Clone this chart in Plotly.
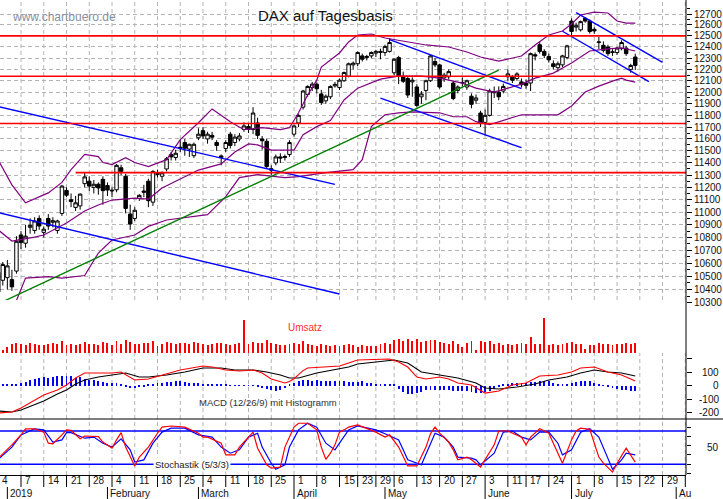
import math
import pandas as pd
import plotly.graph_objects as go

# ---------------- trading calendar ----------------
holidays = ["2018-12-31", "2019-01-01", "2019-04-19", "2019-04-22", "2019-05-01", "2019-06-10"]
days = [d for d in pd.bdate_range("2018-12-27", "2019-08-09") if d.strftime("%Y-%m-%d") not in holidays]
day_index = {d.strftime("%Y-%m-%d"): k for k, d in enumerate(days)}

# ---------------- price data (DAX daily) ----------------
opens = [10530, 10470, 10490, 10475, 10540, 10820, 10755, 10880, 10855, 10950,
         10840, 10950, 10920, 10855, 10990, 11175, 11100, 11038, 11050, 11230,
         11250, 11200, 11225, 11265, 11215, 11170, 11180, 11360, 11290, 10985,
         10950, 11110, 11170, 11250, 11080, 11305, 11290, 11350, 11470, 11445,
         11520, 11570, 11515, 11460, 11610, 11670, 11600, 11630, 11570, 11445,
         11520, 11640, 11570, 11600, 11680, 11705, 11680, 11735, 11600, 11580,
         11340, 11400, 11450, 11445, 11470, 11640, 11735, 11870, 11980, 12040,
         12070, 11985, 11925, 11960, 12055, 12040, 12100, 12140, 12240, 12250,
         12320, 12305, 12320, 12345, 12360, 12350, 12360, 12170, 12305, 12135,
         12120, 12090, 12045, 11960, 12015, 12100, 12270, 12240, 12125, 12135,
         12080, 12015, 12080, 12045, 11965, 11930, 11820, 11740, 11800, 11995,
         12000, 12010, 12135, 12135, 12120, 12090, 12080, 12080, 12330, 12420,
         12360, 12315, 12250, 12215, 12240, 12305, 12635, 12580, 12555, 12660,
         12635, 12560, 12440, 12415, 12400, 12350, 12350, 12385, 12390, 12200,
         12310]
highs = [10560, 10610, 10625, 10550, 10810, 10850, 10900, 10950, 10960, 10975,
         10885, 10985, 10960, 10940, 11220, 11200, 11150, 11130, 11150, 11320,
         11290, 11260, 11240, 11290, 11240, 11200, 11390, 11385, 11310, 11060,
         11040, 11145, 11220, 11270, 11340, 11345, 11330, 11450, 11490, 11510,
         11590, 11600, 11560, 11570, 11690, 11700, 11660, 11660, 11590, 11470,
         11590, 11660, 11640, 11650, 11740, 11730, 11870, 11780, 11625, 11600,
         11380, 11470, 11480, 11470, 11590, 11720, 11810, 12020, 12060, 12090,
         12085, 12020, 11980, 12060, 12090, 12120, 12180, 12260, 12270, 12360,
         12340, 12330, 12360, 12375, 12385, 12420, 12480, 12300, 12320, 12180,
         12140, 12130, 12070, 12010, 12110, 12330, 12300, 12250, 12170, 12200,
         12100, 12060, 12130, 12110, 11990, 11980, 11840, 11850, 12030, 12050,
         12050, 12075, 12200, 12150, 12175, 12120, 12110, 12350, 12350, 12450,
         12380, 12340, 12280, 12270, 12330, 12420, 12660, 12620, 12640, 12670,
         12650, 12580, 12490, 12450, 12420, 12380, 12400, 12460, 12410, 12250,
         12340]
lows = [10280, 10430, 10400, 10390, 10520, 10710, 10720, 10830, 10830, 10860,
        10800, 10860, 10880, 10830, 10970, 11120, 11040, 11010, 11020, 11200,
        11170, 11150, 11140, 11060, 11130, 11120, 11160, 11300, 10990, 10860,
        10930, 11090, 11120, 11040, 11050, 11280, 11250, 11330, 11420, 11420,
        11490, 11460, 11450, 11440, 11590, 11600, 11560, 11590, 11500, 11380,
        11490, 11520, 11540, 11580, 11660, 11650, 11640, 11600, 11510, 11350,
        11300, 11380, 11400, 11420, 11450, 11620, 11700, 11850, 11960, 12010,
        11990, 11890, 11900, 11940, 12040, 12020, 12090, 12130, 12200, 12230,
        12270, 12280, 12300, 12310, 12290, 12320, 12350, 12150, 12070, 12080,
        11950, 11960, 11870, 11900, 11930, 12090, 12220, 12030, 12090, 12110,
        11930, 11990, 12050, 12020, 11860, 11900, 11700, 11630, 11790, 11950,
        11930, 11990, 12100, 12080, 12100, 12040, 12030, 12010, 12280, 12340,
        12300, 12260, 12200, 12180, 12220, 12290, 12500, 12540, 12540, 12620,
        12520, 12520, 12380, 12350, 12320, 12320, 12330, 12370, 12320, 12170,
        12195]
closes = [10382, 10590, 10580, 10420, 10770, 10760, 10810, 10895, 10930, 10890,
          10865, 10890, 10932, 10930, 11210, 11136, 11085, 11075, 11145, 11285,
          11210, 11225, 11195, 11173, 11178, 11176, 11380, 11330, 11030, 10906,
          11015, 11135, 11160, 11092, 11330, 11320, 11318, 11435, 11450, 11480,
          11530, 11522, 11555, 11555, 11640, 11625, 11640, 11615, 11545, 11458,
          11570, 11545, 11615, 11625, 11710, 11680, 11820, 11630, 11585, 11370,
          11352, 11450, 11440, 11452, 11570, 11710, 11800, 12010, 12050, 12070,
          12030, 11910, 11965, 12050, 12068, 12105, 12172, 12250, 12255, 12350,
          12290, 12315, 12350, 12360, 12352, 12405, 12440, 12290, 12140, 12095,
          11975, 12105, 11885, 11985, 12100, 12320, 12240, 12045, 12150, 12180,
          11945, 12045, 12085, 12100, 11895, 11950, 11730, 11800, 12010, 12002,
          11960, 12050, 12160, 12105, 12160, 12065, 12060, 12340, 12320, 12360,
          12325, 12285, 12225, 12250, 12320, 12410, 12540, 12592, 12630, 12635,
          12540, 12545, 12445, 12370, 12340, 12356, 12390, 12440, 12340, 12235,
          12235]

# turnover ("Umsatz"), arbitrary units
volume = [5, 3, 6, 9, 10, 9, 8, 10, 9, 8,
          8, 9, 10, 9, 12, 8, 9, 8, 9, 11,
          9, 9, 8, 11, 10, 8, 12, 9, 13, 11,
          9, 9, 10, 10, 12, 7, 9, 11, 10, 9,
          10, 10, 9, 11, 10, 9, 8, 9, 10, 10,
          9, 8, 9, 10, 33, 9, 11, 10, 10, 13,
          10, 9, 8, 8, 9, 10, 9, 12, 9, 8,
          7, 9, 8, 7, 8, 7, 8, 9, 8, 6,
          8, 7, 7, 7, 9, 10, 9, 13, 14, 12,
          14, 12, 14, 11, 12, 13, 13, 11, 10, 9,
          12, 9, 6, 10, 12, 3, 12, 11, 12, 9,
          10, 8, 9, 8, 9, 10, 9, 16, 9, 9,
          35, 8, 9, 8, 9, 10, 11, 9, 9, 4,
          8, 8, 10, 9, 9, 8, 9, 9, 10, 9,
          10]

# MACD histogram (one value per day)
macd_hist = [10, 12, 8, 8, 8, 15, 25, 40, 49, 57,
             62, 57, 62, 69, 69, 74, 69, 57, 64, 49,
             44, 40, 32, 25, 20, 20, 20, 5, -10, -17,
             -17, -10, -10, 7, 10, 15, 20, 25, 25, 32,
             32, 25, 20, 20, 15, 12, 7, 7, 7, 5,
             5, 3, 3, 3, 3, 3, -2, -5, -17, -25,
             -35, -42, -30, -17, 10, 20, 32, 44, 44, 32,
             40, 32, 32, 32, 32, 32, 30, 25, 25, 25,
             32, 17, 17, 12, 12, 12, 7, 7, -25, -49,
             -62, -62, -57, -49, -32, -32, -32, -32, -32, -32,
             -37, -37, -40, -42, -49, -53, -57, -50, -42, -25,
             -12, 5, 7, 17, 17, 17, 20, 25, 25, 32,
             37, 32, 17, 12, 12, 12, 17, 25, 32, 37,
             32, 17, 5, -3, -7, -17, -25, -32, -32, -37,
             -42]

# MACD line (red) and signal line (black): (trading-day index, value)
macd_days = [0, 3, 5, 8, 10, 13, 15, 17, 19, 22, 25, 27, 29, 30, 33, 36, 40, 45, 47, 50,
             53, 56, 58, 60, 63, 64, 65, 66, 67, 68, 72, 75, 77, 79, 86, 88, 90, 92, 94, 97,
             99, 101, 104, 106, 107, 110, 113, 116, 119, 123, 126, 128, 131, 134, 137, 140]
macd_vals = [-204, -196, -167, -107, -70, -33, 4, 56, 93, 93, 93, 100, 63, 41, 48, 78, 115, 144, 137, 115,
             107, 115, 93, 48, 19, 30, 50, 80, 110, 130, 137, 144, 167, 189, 196, 174, 137, 63, 48, 63,
             48, 19, 4, -33, -56, -41, 4, 19, 70, 78, 100, 130, 137, 100, 78, 33]
signal_days = [0, 3, 5, 8, 10, 13, 15, 17, 19, 22, 25, 28, 31, 33, 37, 41, 45, 49, 52, 56,
               59, 62, 64, 66, 70, 74, 77, 79, 84, 87, 90, 93, 97, 101, 105, 107, 110, 114, 118, 121,
               125, 128, 131, 134, 137, 140]
signal_vals = [-189, -196, -181, -144, -115, -63, -33, 11, 41, 63, 78, 93, 63, 63, 78, 100, 130, 130, 115, 115,
               100, 78, 56, 56, 93, 115, 137, 159, 181, 189, 167, 100, 78, 56, 19, -19, -26, -11, 11, 41,
               63, 93, 115, 100, 93, 70]

# Stochastics %K (red) and %D (blue)
stk_days = [0, 3, 5, 6, 8, 10, 11, 12, 14, 15, 16, 18, 19, 22, 23, 25, 26, 27, 28, 30,
            31, 33, 35, 36, 38, 41, 44, 45, 46, 49, 50, 52, 53, 55, 56, 57, 59, 60, 62, 63,
            65, 66, 68, 70, 71, 72, 73, 74, 75, 76, 77, 79, 83, 85, 86, 88, 89, 90, 92, 93,
            94, 95, 96, 97, 99, 100, 101, 103, 104, 106, 107, 109, 110, 112, 115, 116, 117, 119, 121, 122,
            124, 126, 127, 128, 130, 132, 133, 135, 136, 138, 139, 140]
stk_vals = [31, 55, 73, 84, 84, 78, 58, 57, 73, 82, 81, 66, 71, 70, 60, 49, 64, 77, 51, 17,
            33, 51, 76, 87, 89, 87, 76, 69, 69, 58, 37, 37, 51, 69, 78, 49, 19, 13, 15, 51,
            87, 94, 94, 82, 51, 29, 40, 55, 78, 82, 87, 91, 78, 69, 73, 51, 33, 17, 17, 33,
            51, 75, 87, 76, 60, 46, 28, 33, 28, 15, 28, 55, 80, 80, 69, 55, 69, 84, 76, 58,
            22, 64, 80, 85, 83, 33, 22, 6, 22, 49, 37, 24]
std_days = [0, 3, 5, 8, 10, 12, 14, 15, 16, 19, 21, 23, 25, 26, 27, 29, 30, 32, 34, 36,
            38, 41, 44, 47, 49, 51, 53, 55, 57, 58, 60, 61, 63, 64, 66, 68, 70, 72, 74, 75,
            77, 79, 83, 85, 88, 89, 90, 93, 94, 96, 98, 100, 101, 104, 105, 106, 109, 111, 113, 115,
            117, 119, 121, 123, 124, 126, 128, 130, 132, 134, 135, 137, 138, 140]
std_vals = [29, 51, 73, 84, 82, 60, 64, 77, 77, 67, 69, 58, 51, 58, 66, 46, 24, 28, 58, 78,
            85, 85, 73, 69, 51, 40, 46, 69, 76, 51, 22, 11, 19, 51, 82, 94, 87, 58, 46, 58,
            82, 89, 82, 75, 64, 46, 28, 19, 37, 76, 69, 51, 33, 31, 28, 19, 40, 78, 80, 69,
            64, 78, 78, 58, 37, 46, 78, 84, 69, 28, 11, 28, 40, 37]

# Bollinger-type envelope (purple): (trading-day index, price)
bb_up_days = [0, 3, 6, 9, 11, 14, 16, 19, 22, 23, 25, 28, 30, 33, 37, 40, 44, 47, 51, 54,
              58, 62, 64, 66, 68, 70, 71, 75, 77, 79, 82, 85, 90, 94, 99, 103, 106, 110, 115, 118,
              121, 124, 126, 128, 131, 134, 136, 138, 140]
bb_up_vals = [11424, 11220, 11075, 11125, 11155, 11240, 11345, 11470, 11452, 11403, 11386, 11444, 11403, 11370, 11427, 11594, 11737, 11855, 11746, 11678,
              11695, 11678, 11695, 11822, 11975, 12105, 12220, 12346, 12445, 12508, 12517, 12481, 12445, 12418, 12400, 12355, 12310, 12274, 12319, 12418,
              12508, 12544, 12608, 12691, 12718, 12709, 12636, 12617, 12617]
bb_mid_days = [0, 3, 8, 10, 15, 19, 22, 25, 30, 33, 36, 41, 44, 49, 52, 55, 57, 60, 65, 67,
               70, 73, 76, 79, 84, 88, 93, 97, 102, 105, 109, 112, 115, 118, 122, 126, 128, 130, 134, 137, 140]
bb_mid_vals = [10859, 10772, 10803, 10819, 10914, 11009, 11057, 11097, 11113, 11105, 11194, 11284, 11341, 11392, 11491, 11558, 11550, 11507, 11507, 11636,
               11704, 11755, 11932, 12035, 12114, 12141, 12141, 12123, 12079, 12035, 12001, 12035, 12070, 12123, 12167, 12256, 12310, 12364, 12382, 12391, 12364]
bb_low_days = [0, 3, 6, 11, 14, 19, 22, 25, 30, 33, 37, 41, 46, 50, 53, 57, 63, 66, 72, 78,
               80, 82, 85, 88, 91, 97, 100, 103, 105, 108, 112, 115, 123, 126, 129, 132, 135, 137, 138, 140]
bb_low_vals = [10264, 10234, 10487, 10498, 10487, 10506, 10679, 10780, 10819, 10887, 10938, 10958, 10981, 11125, 11279, 11304, 11279, 11287, 11320, 11345,
               11427, 11704, 11805, 11822, 11830, 11822, 11788, 11788, 11746, 11721, 11771, 11805, 11805, 11881, 12001, 12053, 12097, 12123, 12105, 12088]

# trend lines: start day, start price, end day, end price
tl_d0 = [0, 0, 86, 84, 127, 124, 0]
tl_p0 = [11875, 10997, 12466, 11948, 12713, 12542, 10293]
tl_d1 = [74, 75, 115, 115, 146, 143, 110]
tl_p1 = [11224, 10366, 12031, 11527, 12263, 12092, 12193]
tl_col = ["#0000ff", "#0000ff", "#0000ff", "#0000ff", "#0000ff", "#0000ff", "#008000"]

# horizontal support/resistance levels
red_levels = [12500, 12140, 11730, 11320]
red_start_days = [0, 0, 0, 17]

stoch_levels = [20, 80]

price_ticks = list(range(10300, 12701, 100))
price_minor = list(range(10350, 12751, 100))
macd_ticks = [200, 100, 0, -100, -200]
macd_labels = ["", "100", "0", "-100", "-200"]
stoch_ticks = [4, 20, 37, 53, 70, 86]

week_ticks = ["2019-01-07", "2019-01-14", "2019-01-21", "2019-01-28", "2019-02-04", "2019-02-11",
              "2019-02-18", "2019-02-25", "2019-03-04", "2019-03-11", "2019-03-18", "2019-03-25",
              "2019-04-01", "2019-04-08", "2019-04-15", "2019-04-23", "2019-04-29", "2019-05-06",
              "2019-05-13", "2019-05-20", "2019-05-27", "2019-06-03", "2019-06-11", "2019-06-17",
              "2019-06-24", "2019-07-01", "2019-07-08", "2019-07-15", "2019-07-22", "2019-07-29",
              "2019-08-05"]
week_labels = ["7", "14", "21", "28", "4", "11", "18", "25", "4", "11", "18", "25", "1", "8", "15", "23",
               "29", "6", "13", "20", "27", "3", "11", "17", "24", "1", "8", "15", "22", "29", ""]
month_ticks = ["2019-01-02", "2019-02-01", "2019-03-01", "2019-04-01", "2019-05-02", "2019-06-03",
               "2019-07-01", "2019-08-01"]
month_labels = ["2019", "February", "March", "April", "May", "June", "July", "Au"]

# ---------------- geometry ----------------
W, H = 723, 499
MR, MB = 37, 24
PW, PH = W - MR, H - MB
DAY_PX = 4.55
X0 = 1.75 / DAY_PX
X1 = (PW + 1.75) / DAY_PX
K_LOG = 1379.0


def py(row):
    return 1 - row / PH


def px(col):
    return col / PW


def ix(i):
    return (i - X0) / (X1 - X0)


def log_price_at(row):
    return (math.log(12700) - (row - 14) / K_LOG) / math.log(10)


def macd_at(row):
    return (385.5 - row) / 0.135


def stoch_at(row):
    return (475.4 - row) / 0.555


n = len(closes)
xs = list(range(n))
fig = go.Figure()

fig.add_trace(go.Bar(x=xs, y=volume, width=0.2, marker=dict(color="#ff0000", line=dict(width=0)),
                     yaxis="y2", hoverinfo="skip"))
fig.add_trace(go.Bar(x=xs, y=macd_hist, width=0.2, marker=dict(color="#0000ff", line=dict(width=0)),
                     yaxis="y3", hoverinfo="skip"))

fig.add_trace(go.Candlestick(x=xs, open=opens, high=highs, low=lows, close=closes,
                             increasing=dict(line=dict(color="black", width=1), fillcolor="white"),
                             decreasing=dict(line=dict(color="black", width=1), fillcolor="black"),
                             whiskerwidth=0, yaxis="y", hoverinfo="skip"))

for dd, vv in [(bb_up_days, bb_up_vals), (bb_mid_days, bb_mid_vals), (bb_low_days, bb_low_vals)]:
    fig.add_trace(go.Scatter(x=dd, y=vv, mode="lines", line=dict(color="#800080", width=1.2),
                             yaxis="y", hoverinfo="skip"))

for a, pa, b, pb, c in zip(tl_d0, tl_p0, tl_d1, tl_p1, tl_col):
    fig.add_trace(go.Scatter(x=[a, b], y=[pa, pb], mode="lines", line=dict(color=c, width=1.4),
                             yaxis="y", hoverinfo="skip"))

for lv, st in zip(red_levels, red_start_days):
    fig.add_trace(go.Scatter(x=[st, X1], y=[lv, lv], mode="lines", line=dict(color="#ff0000", width=1.6),
                             yaxis="y", hoverinfo="skip"))

fig.add_trace(go.Scatter(x=signal_days, y=signal_vals, mode="lines", line=dict(color="black", width=1.1),
                         yaxis="y3", hoverinfo="skip"))
fig.add_trace(go.Scatter(x=macd_days, y=macd_vals, mode="lines", line=dict(color="#ff0000", width=1.1),
                         yaxis="y3", hoverinfo="skip"))

for lv in stoch_levels:
    fig.add_trace(go.Scatter(x=[X0, X1], y=[lv, lv], mode="lines", line=dict(color="#0000ff", width=1.5),
                             yaxis="y4", hoverinfo="skip"))
fig.add_trace(go.Scatter(x=std_days, y=std_vals, mode="lines", line=dict(color="#0000ff", width=1.2),
                         yaxis="y4", hoverinfo="skip"))
fig.add_trace(go.Scatter(x=stk_days, y=stk_vals, mode="lines", line=dict(color="#ff0000", width=1.2),
                         yaxis="y4", hoverinfo="skip"))

shapes = []
grid = dict(color="#b4b4b4", width=1, dash="4px,3px")
for d in week_ticks:
    i = day_index[d]
    if i <= X1:
        shapes.append(dict(type="line", xref="paper", yref="paper", x0=ix(i), x1=ix(i), y0=0, y1=1,
                           line=grid, layer="below"))
        shapes.append(dict(type="line", xref="paper", yref="paper", x0=ix(i), x1=ix(i),
                           y0=py(475), y1=py(487), line=dict(color="black", width=1)))
for d in month_ticks:
    i = day_index[d]
    shapes.append(dict(type="line", xref="paper", yref="paper", x0=ix(i), x1=ix(i),
                       y0=py(487), y1=py(499), line=dict(color="black", width=1)))
# right axis line and panel separator
shapes.append(dict(type="line", xref="paper", yref="paper", x0=1, x1=1, y0=0, y1=1,
                   line=dict(color="black", width=1)))
shapes.append(dict(type="line", xref="paper", yref="paper", x0=0, x1=W / PW, y0=py(419), y1=py(419),
                   line=dict(color="black", width=1.2)))

font = "Liberation Sans, Arial, sans-serif"
ann = []
ann.append(dict(text="www.chartbuero.de", x=px(10), y=py(17), xref="paper", yref="paper",
                xanchor="left", yanchor="middle", showarrow=False,
                font=dict(family=font, size=12, color="#8a90a4")))
ann.append(dict(text="DAX auf Tagesbasis", x=px(256), y=py(16), xref="paper", yref="paper",
                xanchor="left", yanchor="middle", showarrow=False,
                font=dict(family=font, size=15, color="#111111")))
ann.append(dict(text="Umsatz", x=px(286), y=py(327), xref="paper", yref="paper",
                xanchor="left", yanchor="middle", showarrow=False,
                font=dict(family=font, size=10, color="#ff3030")))
ann.append(dict(text="MACD (12/26/9) mit Histogramm", x=px(197), y=py(402), xref="paper", yref="paper",
                xanchor="left", yanchor="middle", showarrow=False,
                font=dict(family=font, size=9.5, color="#333333")))
ann.append(dict(text="Stochastik (5/3/3)", x=px(153), y=py(464), xref="paper", yref="paper",
                xanchor="left", yanchor="middle", showarrow=False, bgcolor="white", borderpad=1,
                font=dict(family=font, size=9.5, color="#222222")))
for v, t in zip(macd_ticks, macd_labels):
    if t:
        ann.append(dict(text=t, x=px(721), y=v, xref="paper", yref="y3", xanchor="right",
                        yanchor="middle", showarrow=False, font=dict(family=font, size=10, color="#111111")))
ann.append(dict(text="50", x=px(721), y=50, xref="paper", yref="y4", xanchor="right",
                yanchor="middle", showarrow=False, font=dict(family=font, size=10, color="#111111")))
# date band
ann.append(dict(text="4", x=0, y=py(481), xref="paper", yref="paper", xanchor="left", yanchor="middle",
                showarrow=False, font=dict(family=font, size=10, color="#111111")))
for d, lab in zip(week_ticks, week_labels):
    i = day_index[d]
    if lab:
        ann.append(dict(text=lab, x=ix(i), y=py(481), xref="paper", yref="paper",
                        xanchor="left", yanchor="middle", xshift=2, showarrow=False,
                        font=dict(family=font, size=10, color="#111111")))
for d, lab in zip(month_ticks, month_labels):
    i = day_index[d]
    ann.append(dict(text=lab, x=ix(i), y=py(493), xref="paper", yref="paper",
                    xanchor="left", yanchor="middle", xshift=1, showarrow=False,
                    font=dict(family=font, size=10, color="#111111")))

fig.update_layout(
    width=W, height=H, margin=dict(l=0, r=MR, t=0, b=MB, pad=0),
    paper_bgcolor="white", plot_bgcolor="white", showlegend=False,
    boxgap=0.2, boxgroupgap=0.05, bargap=0,
    shapes=shapes, annotations=ann,
    xaxis=dict(domain=[0, 1], range=[X0, X1], anchor="y4", showgrid=False, zeroline=False,
               showticklabels=False, ticks="", showline=True, linecolor="black", linewidth=1,
               rangeslider=dict(visible=False)),
    yaxis=dict(domain=[py(310), 1], type="log", range=[log_price_at(310), log_price_at(0)],
               side="right", anchor="x", tickmode="array", tickvals=price_ticks,
               ticktext=[str(v) for v in price_ticks], ticks="outside", ticklen=5, tickcolor="black",
               tickwidth=1, showgrid=True, gridcolor="#b4b4b4", griddash="4px,3px", gridwidth=1,
               zeroline=False, showline=False,
               tickfont=dict(family=font, size=10, color="#111111"),
               minor=dict(tickmode="array", tickvals=price_minor, ticks="outside", ticklen=3,
                          tickcolor="black", showgrid=False)),
    yaxis2=dict(domain=[py(353), py(300)], range=[0, 53], anchor="x", visible=False),
    yaxis3=dict(domain=[py(419), py(350)], range=[macd_at(419), macd_at(350)], anchor="x", side="right",
                tickmode="array", tickvals=macd_ticks, showticklabels=False, ticks="outside", ticklen=5,
                tickcolor="black", showgrid=False, zeroline=False, showline=False),
    yaxis4=dict(domain=[0, py(419)], range=[stoch_at(475), stoch_at(419)], anchor="x", side="right",
                tickmode="array", tickvals=stoch_ticks, showticklabels=False, ticks="outside", ticklen=4,
                tickcolor="black", showgrid=False, zeroline=False, showline=False),
)

fig.write_html("out.html")
